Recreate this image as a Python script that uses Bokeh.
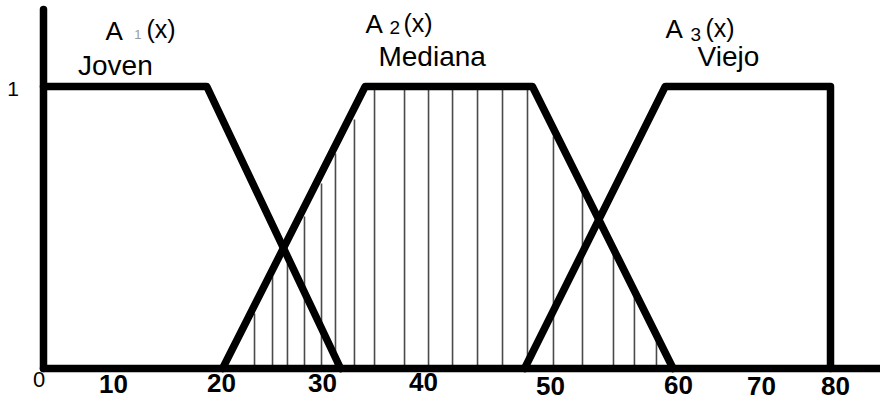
from bokeh.plotting import figure
from bokeh.models import Range1d
from bokeh.core.properties import value
from bokeh.embed import file_html
from bokeh.resources import INLINE

# ---- data ----
a1_x = [0.0, 16.6, 30.2]
a1_y = [1.0, 1.0, 0.0]
a2_x = [18.2, 32.7, 49.7, 64.0]
a2_y = [0.0, 1.0, 1.0, 0.0]
a3_x = [48.9, 63.2, 80.0, 80.0]
a3_y = [0.0, 1.0, 1.0, 0.0]

hatch_x = [21.45, 23.28, 24.80, 26.53, 28.26, 29.68, 31.61, 33.65, 36.70, 39.14,
           41.58, 44.12, 46.66, 49.20, 51.84, 54.79, 57.94, 60.07, 62.31]
hatch_top = [0.195, 0.326, 0.372, 0.539, 0.656, 0.762, 0.883, 1.0, 1.0, 1.0,
             1.0, 1.0, 1.0, 1.0, 0.823, 0.635, 0.422, 0.266, 0.110]

tick_labels = ["10", "20", "30", "40", "50", "60", "70", "80"]
tick_pos_x = [7.12, 18.09, 28.36, 38.63, 51.54, 64.55, 72.99, 80.51]
tick_pos_y = [-0.0550, -0.0514, -0.0514, -0.0479, -0.0603, -0.0585, -0.0621, -0.0603]

set_names = ["Joven", "Mediana", "Viejo"]
set_name_x = [3.51, 34.05, 66.48]
set_name_y = [1.0745, 1.1064, 1.1064]

set_idx = ["1", "2", "3"]
set_A_x = [6.30, 32.73, 63.23]
set_A_y = [1.1986, 1.2216, 1.2039]
set_idx_x = [9.22, 35.17, 65.77]
set_idx_y = [1.1862, 1.2092, 1.1862]
set_par_x = [10.47, 36.59, 67.29]
set_par_y = [1.2057, 1.2252, 1.2074]

y_top = 1.273

# ---- figure ----
p = figure(width=880, height=401, output_backend="svg", toolbar_location=None,
           x_axis_type=None, y_axis_type=None, min_border=0,
           x_range=Range1d(-4.371, 85.083), y_range=Range1d(-0.1170, 1.3050))
p.outline_line_color = None
p.grid.visible = False
p.background_fill_color = "white"
p.border_fill_color = "white"

# hatch lines
p.segment(x0=hatch_x, y0=[0] * len(hatch_x), x1=hatch_x, y1=hatch_top,
          line_color="#4a4a4a", line_width=1.6)

LW = 7.5
# axes
p.line([0, 0], [0, y_top], line_color="black", line_width=LW, line_cap="round")
p.line([0, 90], [0, 0], line_color="black", line_width=LW, line_cap="round")

# membership functions
for xs, ys in [(a1_x, a1_y), (a2_x, a2_y), (a3_x, a3_y)]:
    p.line(xs, ys, line_color="black", line_width=LW, line_cap="round", line_join="round")

font = value("Liberation Sans")

# tick labels
p.text(x=tick_pos_x, y=tick_pos_y, text=tick_labels, text_font=font,
       text_font_size="26px", text_font_style="bold", text_align="center",
       text_baseline="middle", text_color="black")
p.text(x=[-0.457], y=[-0.0390], text=["0"], text_font=font, text_font_size="22px",
       text_align="center", text_baseline="middle", text_color="black")
p.text(x=[-3.10], y=[0.9911], text=["1"], text_font=font, text_font_size="21px",
       text_align="center", text_baseline="middle", text_color="black")

# set labels
p.text(x=set_name_x, y=set_name_y, text=set_names, text_font=font,
       text_font_size="28px", text_align="left", text_baseline="middle",
       text_color="black")
p.text(x=set_A_x, y=set_A_y, text=["A"] * 3, text_font=font,
       text_font_size="26px", text_align="left", text_baseline="middle",
       text_color="black")
p.text(x=set_idx_x[:1], y=set_idx_y[:1], text=set_idx[:1], text_font=font,
       text_font_size="13px", text_align="left", text_baseline="middle",
       text_color="#9a9a9a")
p.text(x=set_idx_x[1:], y=set_idx_y[1:], text=set_idx[1:], text_font=font,
       text_font_size="19px", text_align="left", text_baseline="middle",
       text_color="black")
p.text(x=set_par_x, y=set_par_y, text=["(x)"] * 3, text_font=font,
       text_font_size="25px", text_align="left", text_baseline="middle",
       text_color="black")

open("out.html", "w").write(file_html(p, INLINE))
